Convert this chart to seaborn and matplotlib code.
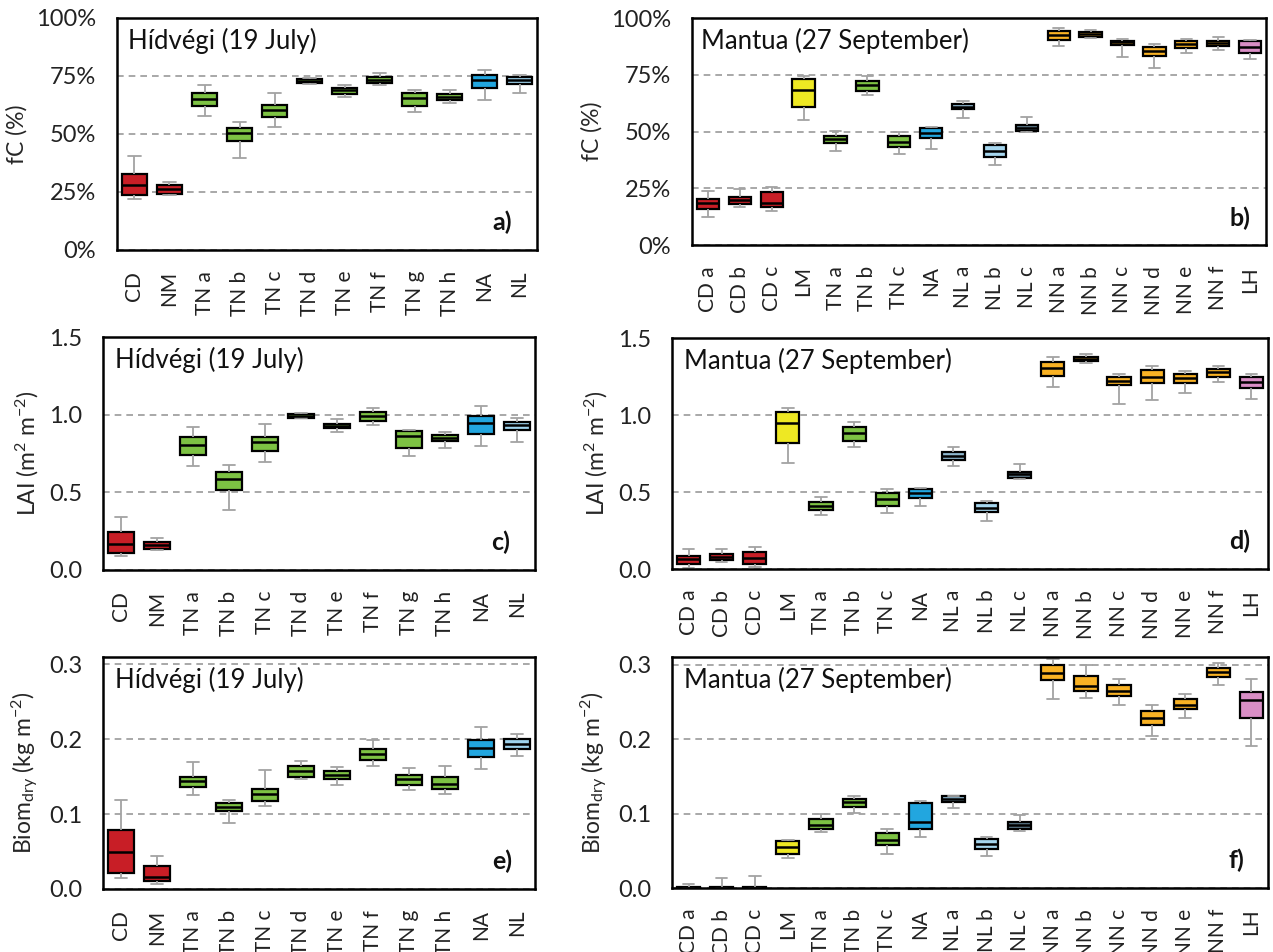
import numpy as np
import pandas as pd
import matplotlib
matplotlib.use("Agg")
import matplotlib.pyplot as plt
import seaborn as sns

# Categories
hid_cats = ["CD", "NM", "TN a", "TN b", "TN c", "TN d", "TN e", "TN f",
            "TN g", "TN h", "NA", "NL"]
man_cats = ["CD a", "CD b", "CD c", "LM", "TN a", "TN b", "TN c", "NA",
            "NL a", "NL b", "NL c", "NN a", "NN b", "NN c", "NN d", "NN e",
            "NN f", "LH"]

# Five-number summaries: (min, q1, median, q3, max)
fc_hid = [(22.0, 23.7, 28.0, 32.8, 40.6), (23.7, 24.2, 26.3, 27.8, 29.5),
          (57.8, 61.9, 65.2, 67.6, 71.2), (39.6, 46.8, 50.4, 52.7, 55.1),
          (53.0, 57.3, 60.4, 62.6, 67.6), (71.7, 71.9, 72.9, 73.7, 74.1),
          (65.8, 67.3, 68.8, 69.9, 71.2), (71.1, 71.9, 73.2, 74.5, 76.1),
          (59.4, 61.9, 65.5, 67.6, 68.8), (63.3, 64.5, 65.9, 67.1, 69.1),
          (64.7, 69.9, 73.1, 75.3, 77.7), (67.6, 71.7, 73.2, 74.5, 75.5)]
fc_man = [(12.2, 15.9, 18.7, 20.3, 24.0), (16.9, 18.1, 19.9, 21.3, 24.6),
          (15.1, 16.9, 18.4, 23.5, 25.4), (55.1, 61.0, 68.4, 73.2, 74.3),
          (41.5, 44.9, 46.8, 48.2, 50.3), (65.9, 67.9, 70.3, 72.5, 74.3),
          (40.0, 43.4, 45.6, 48.2, 49.6), (42.4, 47.1, 49.3, 51.6, 52.2),
          (56.0, 59.9, 61.0, 62.1, 63.5), (35.3, 38.7, 41.6, 44.0, 44.9),
          (50.0, 50.3, 51.6, 52.8, 56.2), (87.9, 90.4, 92.6, 94.3, 95.6),
          (91.2, 91.6, 92.9, 93.8, 94.6), (82.8, 88.1, 89.3, 90.1, 90.9),
          (77.9, 83.5, 85.6, 87.2, 88.5), (84.6, 86.8, 88.5, 89.7, 90.7),
          (86.0, 87.8, 89.0, 90.1, 91.5), (82.1, 84.6, 87.2, 89.7, 90.4)]
lai_hid = [(0.090, 0.112, 0.168, 0.243, 0.340), (0.129, 0.133, 0.161, 0.183, 0.209),
           (0.667, 0.742, 0.806, 0.856, 0.920), (0.387, 0.512, 0.587, 0.630, 0.673),
           (0.695, 0.763, 0.824, 0.856, 0.942), (0.976, 0.981, 0.994, 1.006, 1.011),
           (0.886, 0.912, 0.927, 0.942, 0.972), (0.933, 0.961, 0.994, 1.017, 1.043),
           (0.735, 0.785, 0.860, 0.892, 0.903), (0.787, 0.828, 0.849, 0.867, 0.886),
           (0.800, 0.877, 0.946, 0.989, 1.054), (0.821, 0.899, 0.935, 0.953, 0.978)]
lai_man = [(0.009, 0.030, 0.063, 0.084, 0.128), (0.048, 0.058, 0.078, 0.095, 0.130),
           (0.011, 0.030, 0.069, 0.113, 0.145), (0.690, 0.816, 0.946, 1.022, 1.043),
           (0.351, 0.383, 0.409, 0.433, 0.470), (0.790, 0.833, 0.881, 0.924, 0.952),
           (0.361, 0.411, 0.452, 0.491, 0.519), (0.411, 0.463, 0.494, 0.519, 0.528),
           (0.669, 0.708, 0.736, 0.762, 0.794), (0.314, 0.368, 0.398, 0.431, 0.444),
           (0.582, 0.589, 0.615, 0.632, 0.682), (1.184, 1.255, 1.303, 1.342, 1.379),
           (1.340, 1.351, 1.364, 1.379, 1.394), (1.069, 1.193, 1.223, 1.245, 1.266),
           (1.097, 1.210, 1.249, 1.292, 1.318), (1.145, 1.206, 1.238, 1.264, 1.288),
           (1.216, 1.249, 1.277, 1.299, 1.320), (1.104, 1.175, 1.212, 1.245, 1.266)]
bio_hid = [(0.015, 0.021, 0.049, 0.079, 0.119), (0.006, 0.010, 0.016, 0.031, 0.044),
           (0.125, 0.136, 0.144, 0.150, 0.170), (0.088, 0.104, 0.109, 0.115, 0.119),
           (0.111, 0.118, 0.127, 0.134, 0.159), (0.147, 0.150, 0.158, 0.164, 0.171),
           (0.139, 0.147, 0.152, 0.157, 0.163), (0.164, 0.172, 0.181, 0.187, 0.199),
           (0.132, 0.139, 0.147, 0.152, 0.162), (0.127, 0.133, 0.140, 0.150, 0.164),
           (0.160, 0.177, 0.189, 0.199, 0.217), (0.178, 0.187, 0.194, 0.200, 0.207)]
bio_man = [(0.000, 0.000, 0.0005, 0.001, 0.006), (0.000, 0.000, 0.0005, 0.001, 0.014),
           (0.000, 0.000, 0.0005, 0.001, 0.016), (0.040, 0.046, 0.055, 0.063, 0.064),
           (0.075, 0.079, 0.084, 0.092, 0.100), (0.101, 0.109, 0.115, 0.119, 0.124),
           (0.046, 0.058, 0.065, 0.074, 0.079), (0.068, 0.079, 0.088, 0.114, 0.117),
           (0.108, 0.115, 0.119, 0.123, 0.124), (0.043, 0.053, 0.059, 0.066, 0.069),
           (0.076, 0.079, 0.084, 0.089, 0.098), (0.254, 0.279, 0.289, 0.300, 0.308),
           (0.255, 0.264, 0.271, 0.285, 0.300), (0.245, 0.258, 0.265, 0.272, 0.281),
           (0.204, 0.219, 0.228, 0.237, 0.245), (0.228, 0.240, 0.246, 0.254, 0.261),
           (0.273, 0.283, 0.290, 0.296, 0.302), (0.190, 0.228, 0.252, 0.263, 0.281)]

# Colours by vegetation class
class_colors = {
    "CD": "#c81e26", "NM": "#c81e26", "TN": "#7dc243", "NA": "#22a6df",
    "NL": "#9fd4ee", "NL a": "#8fb8cf", "NL b": "#a6d6ee", "NL c": "#5a7888",
    "LM": "#eee823", "NN": "#f9b224", "LH": "#d98ec5",
}


def cat_color(cat):
    if cat in class_colors:
        return class_colors[cat]
    return class_colors[cat.split()[0]]


sns.set_theme(style="white")
plt.rcParams.update({
    "font.family": ["Lato", "DejaVu Sans"],
    "mathtext.default": "regular",
    "axes.edgecolor": "black",
    "axes.linewidth": 1.6,
    "xtick.labelsize": 15,
    "ytick.labelsize": 17,
    "axes.labelsize": 16.5,
    "xtick.major.size": 0,
    "ytick.major.size": 0,
    "xtick.major.pad": 15,
    "ytick.major.pad": 15,
    "text.color": "#111111",
    "xtick.color": "#222222",
    "ytick.color": "#222222",
})


def draw_panel(ax, cats, stats, ylim, ticks, ticklabels, ylabel, title, tag,
               title_x, tag_x):
    rows = []
    for cat, five in zip(cats, stats):
        for v in five:
            rows.append({"cat": cat, "val": v})
    df = pd.DataFrame(rows)
    palette = {c: cat_color(c) for c in cats}

    sns.boxplot(data=df, x="cat", y="val", hue="cat", order=cats,
                hue_order=cats, palette=palette, whis=(0, 100), width=0.7,
                linecolor="black", linewidth=1.6, showfliers=False,
                saturation=1, legend=False, ax=ax,
                whiskerprops={"color": "#a3a3a3", "linewidth": 1.3},
                capprops={"color": "#a3a3a3", "linewidth": 1.3},
                medianprops={"color": "black", "linewidth": 1.8})

    ax.set_ylim(*ylim)
    ax.set_xlim(-0.5, len(cats) - 0.5)
    ax.set_yticks(ticks)
    ax.set_yticklabels(ticklabels)
    ax.yaxis.grid(True, linestyle=(0, (4, 3)), color="#9a9a9a", linewidth=1.2)
    ax.set_axisbelow(True)
    ax.tick_params(axis="x", rotation=90)
    ax.set_xlabel("")
    ax.set_ylabel(ylabel, labelpad=6)
    for s in ax.spines.values():
        s.set_visible(True)
        s.set_color("black")
        s.set_linewidth(1.8)
    ax.text(title_x, 0.9, title, transform=ax.transAxes, fontsize=18.5,
            ha="left", va="center")
    ax.text(tag_x, 0.12, tag, transform=ax.transAxes, fontsize=18,
            fontweight="bold", ha="right", va="center")


fig = plt.figure(figsize=(12.73, 9.52), dpi=100)

ax_a = fig.add_axes([0.0919, 0.7374, 0.3300, 0.2437])
ax_b = fig.add_axes([0.5436, 0.7426, 0.4509, 0.2384])
ax_c = fig.add_axes([0.0809, 0.4013, 0.3394, 0.2447])
ax_d = fig.add_axes([0.5279, 0.4023, 0.4682, 0.2426])
ax_e = fig.add_axes([0.0809, 0.0662, 0.3394, 0.2437])
ax_f = fig.add_axes([0.5279, 0.0672, 0.4682, 0.2426])

pct_ticks = [0, 25, 50, 75, 100]
pct_labels = ["0%", "25%", "50%", "75%", "100%"]
lai_ticks = [0.0, 0.5, 1.0, 1.5]
lai_labels = ["0.0", "0.5", "1.0", "1.5"]
bio_ticks = [0.0, 0.1, 0.2, 0.3]
bio_labels = ["0.0", "0.1", "0.2", "0.3"]

hid_title = "Hídvégi (19 July)"
man_title = "Mantua (27 September)"
fc_label = "fC (%)"
lai_label = "LAI (m$^2$ m$^{-2}$)"
bio_label = "Biom$_{dry}$ (kg m$^{-2}$)"

draw_panel(ax_a, hid_cats, fc_hid, (0, 100), pct_ticks, pct_labels,
           fc_label, hid_title, "a)", 0.026, 0.94)
draw_panel(ax_b, man_cats, fc_man, (0, 100), pct_ticks, pct_labels,
           fc_label, man_title, "b)", 0.016, 0.972)
draw_panel(ax_c, hid_cats, lai_hid, (0, 1.5), lai_ticks, lai_labels,
           lai_label, hid_title, "c)", 0.028, 0.942)
draw_panel(ax_d, man_cats, lai_man, (0, 1.5), lai_ticks, lai_labels,
           lai_label, man_title, "d)", 0.02, 0.97)
draw_panel(ax_e, hid_cats, bio_hid, (0, 0.31), bio_ticks, bio_labels,
           bio_label, hid_title, "e)", 0.028, 0.947)
draw_panel(ax_f, man_cats, bio_man, (0, 0.31), bio_ticks, bio_labels,
           bio_label, man_title, "f)", 0.02, 0.96)

fig.savefig("out.png", dpi=100)
